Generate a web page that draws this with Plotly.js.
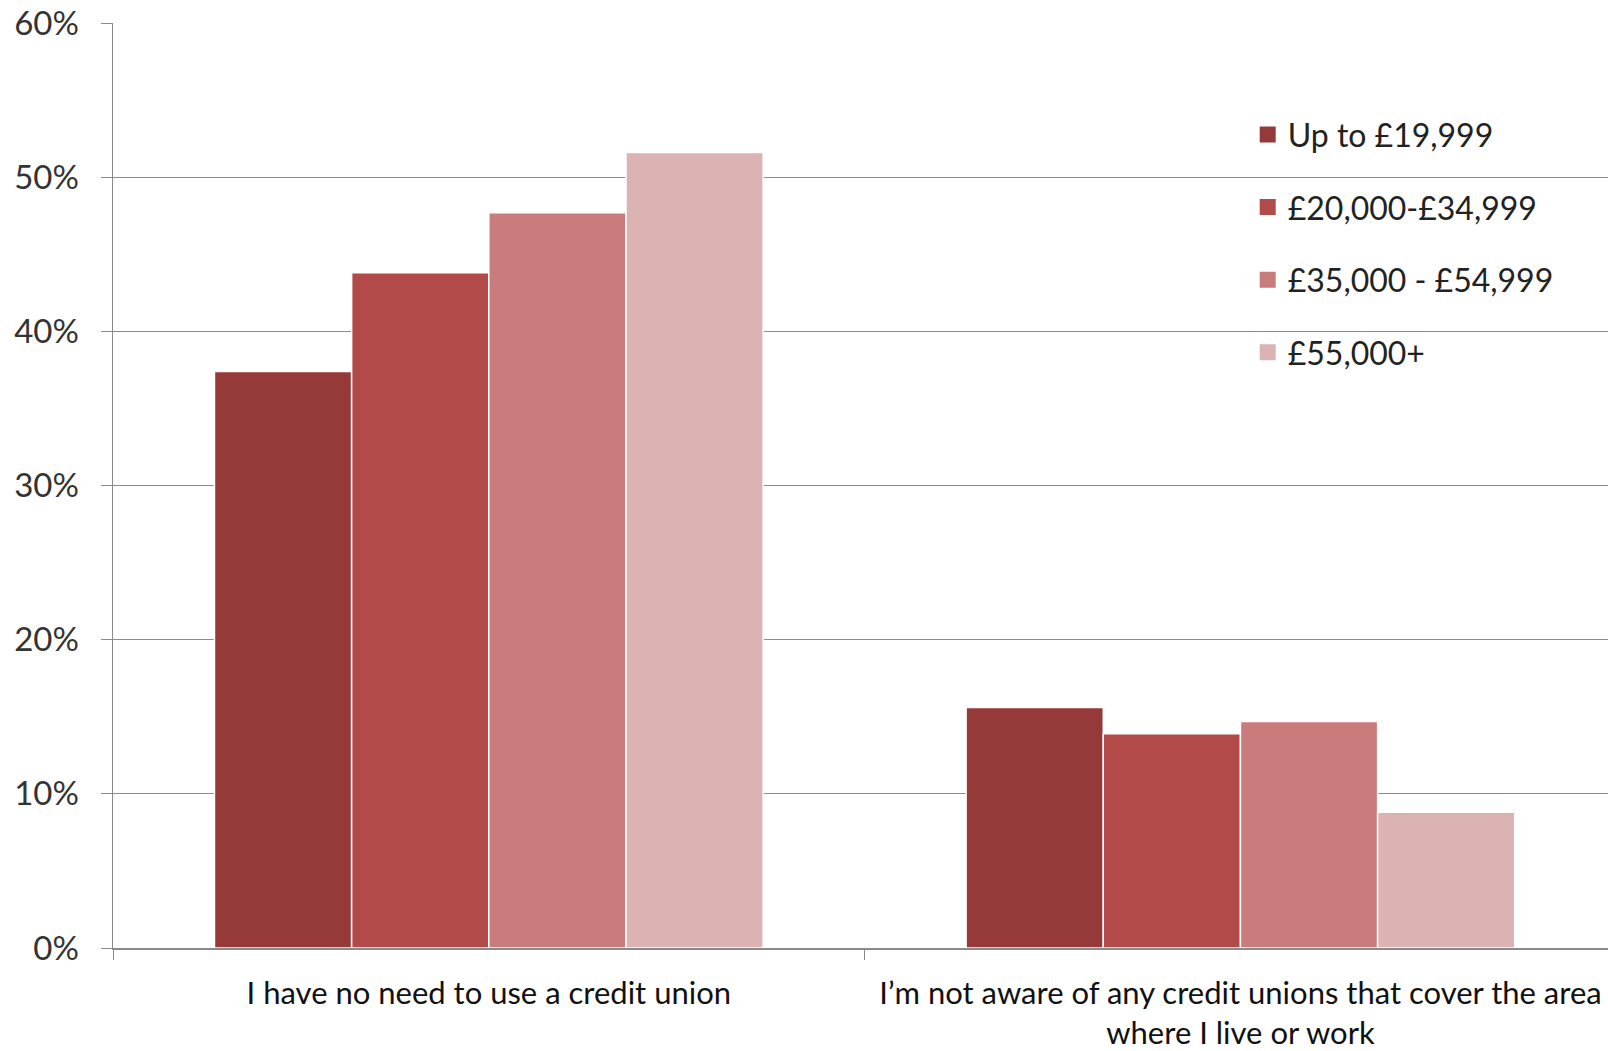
<!DOCTYPE html>
<html>
<head>
<meta charset="utf-8">
<script src="https://cdn.plot.ly/plotly-3.0.1.min.js"></script>
<style>html,body{margin:0;padding:0;background:#fff;}#chart{width:1608px;height:1051px;}</style>
</head>
<body>
<div id="chart"></div>
<script>
const categories = [
  "I have no need to use a credit union",
  "I’m not aware of any credit unions that cover the area<br>where I live or work"
];
const seriesNames = ["Up to £19,999", "£20,000-£34,999", "£35,000 - £54,999", "£55,000+"];
const upTo19999 = [37.4, 15.6];
const from20000 = [43.8, 13.9];
const from35000 = [47.7, 14.7];
const from55000 = [51.6, 8.8];
const yTickVals = [0, 10, 20, 30, 40, 50, 60];
const yTickText = ["0%", "10%", "20%", "30%", "40%", "50%", "60%"];

const colors = ["#953a39", "#b14a48", "#c87c7b", "#dcb3b3"];
const values = [upTo19999, from20000, from35000, from55000];
const FONT = "Lato, 'Open Sans', sans-serif";

const traces = [];
values.forEach((v, i) => {
  traces.push({
    type: "bar", x: categories, y: v, name: seriesNames[i],
    marker: {color: colors[i], line: {color: "#ffffff", width: 1.5}},
    showlegend: false, hoverinfo: "skip"
  });
});
values.forEach((v, i) => {
  traces.push({
    type: "scatter", mode: "markers", x: [null], y: [null], name: seriesNames[i],
    marker: {symbol: "square", size: 16, color: colors[i]},
    legendgroup: "g" + i, showlegend: true
  });
});

const layout = {
  width: 1608, height: 1051,
  margin: {l: 113, r: 0, t: 23, b: 103},
  paper_bgcolor: "#ffffff", plot_bgcolor: "#ffffff",
  barmode: "group", bargap: 0.27, bargroupgap: 0,
  font: {family: FONT, color: "#222222"},
  xaxis: {
    type: "category", range: [-0.5, 1.489],
    tickson: "boundaries", ticks: "outside", ticklen: 10, tickcolor: "#8a8a8a", tickwidth: 1,
    showline: true, linecolor: "#8a8a8a", linewidth: 1.5, showgrid: false,
    tickangle: 0, tickfont: {family: FONT, size: 31, color: "#111111"},
    ticklabelstandoff: 17,
    automargin: false, fixedrange: true
  },
  yaxis: {
    range: [0, 60], tickvals: yTickVals, ticktext: yTickText,
    ticks: "outside", ticklen: 11, tickcolor: "#8a8a8a", tickwidth: 1,
    showline: true, linecolor: "#8a8a8a", linewidth: 1.5,
    showgrid: true, gridcolor: "#8c8c8c", gridwidth: 1,
    zeroline: false, ticklabelstandoff: 15,
    tickfont: {family: FONT, size: 33, color: "#333333"},
    automargin: false, fixedrange: true
  },
  legend: {
    x: 0.759, y: 0.909, xanchor: "left", yanchor: "top",
    bgcolor: "rgba(255,255,255,0)", borderwidth: 0,
    font: {family: FONT, size: 32, color: "#222222"},
    tracegroupgap: 28, traceorder: "grouped"
  },
  showlegend: true
};

Plotly.newPlot("chart", traces, layout, {displayModeBar: false, staticPlot: true});
</script>
</body>
</html>
